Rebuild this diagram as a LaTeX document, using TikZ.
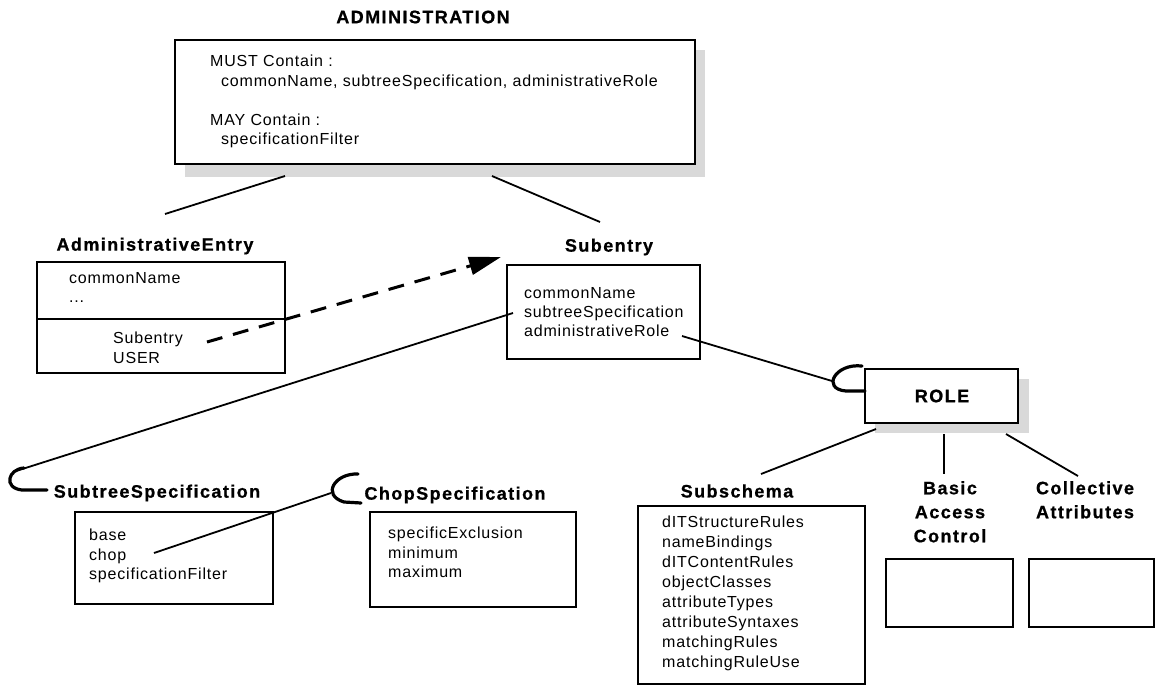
\documentclass[tikz,border=0pt]{standalone}
\usepackage{fontspec}
\setmainfont{Liberation Sans}[LetterSpace=5]
\newfontfamily\hdfont{Liberation Sans Bold}[LetterSpace=8, FakeBold=0.8]
\usetikzlibrary{arrows.meta}
\begin{document}
\begin{tikzpicture}[x=1pt,y=-1pt,
  box/.style={draw=black,line width=1.4pt,fill=white},
  shadow/.style={fill=gray!30,draw=none},
  body/.style={font=\fontsize{16}{19.5}\selectfont,align=left,inner sep=0pt,anchor=north west},
  head/.style={font=\hdfont\fontsize{18}{24}\selectfont,align=center,inner sep=0pt},
  conn/.style={line width=1.8pt},
  hook/.style={line width=3.2pt,line cap=round},
  dasharrow/.style={line width=3pt,dash pattern=on 16pt off 11pt,-{Triangle[length=32pt,width=18pt]}}
]
\useasboundingbox (0,0) rectangle (1156,686);

% ADMINISTRATION
\node[head] (admintitle) at (423,17) {ADMINISTRATION};
\fill[shadow] (185,50) rectangle (705,177);
\draw[box] (175,40) rectangle (695,164);
\coordinate (adminL) at (285,176);
\coordinate (adminR) at (492,176);
\node[body] (admintext) at (210,55) {MUST Contain :\\\hspace*{11pt}commonName, subtreeSpecification, administrativeRole\\[19.5pt]MAY Contain :\\\hspace*{11pt}specificationFilter};

% AdministrativeEntry
\node[head] (aehead) at (155,246) {AdministrativeEntry};
\draw[box] (37,262) rectangle (285,373);
\draw[line width=1.6pt] (37,319) -- (285,319);
\node[body] (aetop) at (69,272) {commonName\\...};
\node[body] (aebot) at (113,332) {Subentry\\USER};
\coordinate (aeL) at (165,214);

% Subentry
\node[head] (subhead) at (609,247) {Subentry};
\draw[box] (507,265) rectangle (700,359);
\node[body,font=\fontsize{16}{19}\selectfont] (subtext) at (524,287) {commonName\\subtreeSpecification\\administrativeRole};
\coordinate (subT) at (600,222);

% ROLE
\fill[shadow] (875,379) rectangle (1029,433);
\draw[box] (865,369) rectangle (1018,423);
\node[head] (role) at (942,396) {ROLE};

% SubtreeSpecification
\node[head] (sshead) at (157,493) {SubtreeSpecification};
\draw[box] (75,512) rectangle (273,604);
\node[body] (sstext) at (89,529) {base\\chop\\specificationFilter};

% ChopSpecification
\node[head] (chophead) at (455,495) {ChopSpecification};
\draw[box] (370,512) rectangle (576,607);
\node[body] (choptext) at (388,527) {specificExclusion\\minimum\\maximum};

% Subschema
\node[head] (schemahead) at (737,491) {Subschema};
\draw[box] (638,506) rectangle (865,684);
\node[body,font=\fontsize{16}{20}\selectfont] (schematext) at (662,516) {dITStructureRules\\nameBindings\\dITContentRules\\objectClasses\\attributeTypes\\attributeSyntaxes\\matchingRules\\matchingRuleUse};

% Basic Access Control
\node[head,anchor=north] (bachead) at (950,481) {Basic\\Access\\Control};
\draw[box] (886,559) rectangle (1013,627);

% Collective Attributes
\node[head,anchor=north] (cahead) at (1085,481) {Collective\\Attributes};
\draw[box] (1029,559) rectangle (1154,627);

% connectors
\draw[conn] (adminL) -- (aeL);
\draw[conn] (adminR) -- (subT);

\coordinate (dashS) at (207,342);
\coordinate (dashE) at (501,257);
\draw[dasharrow] (dashS) -- (dashE);

\coordinate (subLeft) at (513,313);
\coordinate (hookA) at (16,471);
\draw[conn] (subLeft) -- (hookA);
\draw[hook] (24,468) .. controls (8,469) and (3,488) .. (22,490) -- (47,490);

\coordinate (chopW) at (154,553);
\coordinate (hookB) at (331,493);
\draw[conn] (chopW) -- (hookB);
\draw[hook] (358,474) .. controls (335,473) and (321,495) .. (344,502) -- (361,503);

\coordinate (subRole) at (682,336);
\coordinate (hookC) at (832,381);
\draw[conn] (subRole) -- (hookC);
\draw[hook] (862,366) .. controls (835,363) and (821,389) .. (846,391) -- (865,391);

\coordinate (roleA) at (876,429);
\coordinate (schemaT) at (761,474);
\draw[conn] (roleA) -- (schemaT);
\coordinate (roleB) at (944,434);
\coordinate (bacT) at (944,474);
\draw[conn] (roleB) -- (bacT);
\coordinate (roleC) at (1006,434);
\coordinate (caT) at (1078,476);
\draw[conn] (roleC) -- (caT);
\end{tikzpicture}
\end{document}
